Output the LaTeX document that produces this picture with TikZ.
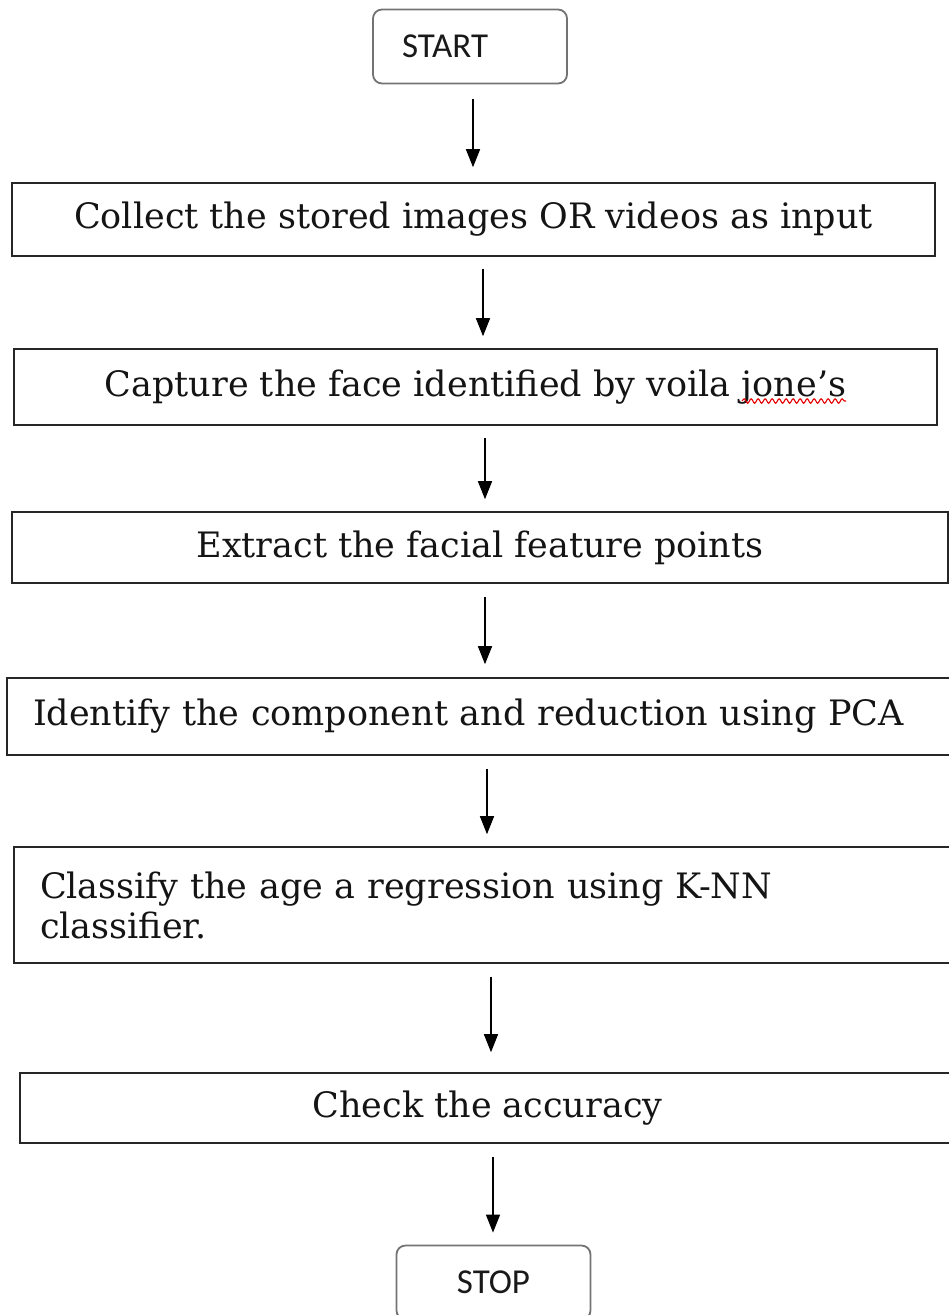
\documentclass[tikz,border=0pt]{standalone}
\usepackage{fontspec}
\setmainfont{Carlito}
\newfontfamily\schfam{DejaVu Serif}
\usetikzlibrary{arrows.meta,decorations.pathmorphing}
\newcommand\schfont{\schfam\fontsize{35}{40}\selectfont}
\newlength\wfull
\newlength\wpre
\newlength\wjone
\begin{document}
\settowidth\wfull{\schfont Capture the face identified by voila jone’s}%
\settowidth\wpre{\schfont Capture the face identified by voila }%
\settowidth\wjone{\schfont jone’s}%
\begin{tikzpicture}[x=1pt,y=-1pt,
  proc/.style={draw=black!85, line width=1.6pt, inner sep=0pt, font=\schfont, text=black!92},
  term/.style={draw=black!55, line width=1.8pt, rounded corners=9pt, minimum width=194pt,
    minimum height=74pt, inner sep=0pt, font=\fontsize{35}{38}\selectfont, text=black!90},
  arr/.style={line width=1.4pt, draw=black, -{Triangle[length=18pt,width=14pt]}},
  spell/.style={draw=red!90!black, line width=1.1pt, decorate,
    decoration={snake, amplitude=2.2pt, segment length=7pt}}]
\useasboundingbox (0,0) rectangle (949,1315);
\clip (0,0) rectangle (949,1315);

\node[term, text width=136pt, align=left, inner xsep=29pt] (start) at (470,46.5) {START};
\node[proc, minimum width=923pt, minimum height=73pt] (b1) at (473.5,219.5)
  {Collect the stored images OR videos as input};
\node[proc, minimum width=923pt, minimum height=76pt] (b2) at (475.5,387)
  {Capture the face identified by voila jone’s};
\node[proc, minimum width=936pt, minimum height=71pt] (b3) at (480,547.5)
  {Extract the facial feature points};
\node[proc, minimum width=950pt, minimum height=77pt, text width=898pt, align=left,
  inner xsep=26pt] (b4) at (482,716.5)
  {Identify the component and reduction using PCA};
\node[proc, minimum width=942pt, minimum height=116pt, text width=890pt, align=left,
  inner xsep=26pt] (b5) at (485,905)
  {Classify the age a regression using K-NN\\classifier.};
\node[proc, minimum width=935pt, minimum height=70pt] (b6) at (487.5,1108)
  {Check the accuracy};
\node[term] (stop) at (493.5,1282.5) {STOP};

\coordinate (a1) at (473,0);
\coordinate (a2) at (483,0);
\coordinate (a3) at (485,0);
\coordinate (a4) at (485,0);
\coordinate (a5) at (487,0);
\coordinate (a6) at (491,0);
\coordinate (a7) at (493,0);

\draw[arr, shorten <=15pt, shorten >=15pt] (start.south -| a1) -- (b1.north -| a1);
\draw[arr, shorten <=12pt, shorten >=12pt] (b1.south -| a2) -- (b2.north -| a2);
\draw[arr, shorten <=12pt, shorten >=12pt] (b2.south -| a3) -- (b3.north -| a3);
\draw[arr, shorten <=13pt, shorten >=13pt] (b3.south -| a4) -- (b4.north -| a4);
\draw[arr, shorten <=13pt, shorten >=12pt] (b4.south -| a5) -- (b5.north -| a5);
\draw[arr, shorten <=13pt, shorten >=20pt] (b5.south -| a6) -- (b6.north -| a6);
\draw[arr, shorten <=13pt, shorten >=12pt] (b6.south -| a7) -- (stop.north -| a7);

\coordinate (sq) at ([xshift=-0.5\wfull+\wpre, yshift=-14pt]b2.center);
\draw[spell] (sq) -- ([xshift=\wjone]sq);
\end{tikzpicture}
\end{document}
